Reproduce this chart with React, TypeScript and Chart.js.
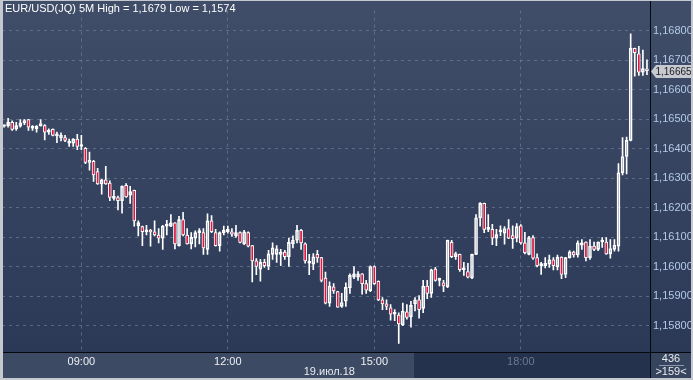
import React, { useEffect, useRef } from 'react';
import { Chart, registerables } from 'chart.js';
Chart.register(...registerables);

const OPEN = [
1.16476,1.16479,1.16490,1.16468,1.16477,1.16488,1.16499,1.16470,1.16468,1.16479,
1.16479,1.16457,1.16466,1.16444,1.16438,1.16438,1.16419,1.16419,1.16433,1.16408,
1.16402,1.16354,1.16358,1.16323,1.16281,1.16295,1.16284,1.16232,1.16235,1.16224,
1.16276,1.16243,1.16259,1.16139,1.16136,1.16119,1.16121,1.16119,1.16108,1.16097,
1.16138,1.16138,1.16149,1.16072,1.16160,1.16108,1.16078,1.16097,1.16116,1.16116,
1.16059,1.16156,1.16116,1.16072,1.16116,1.16119,1.16119,1.16105,1.16116,1.16078,
1.16116,1.16072,1.16020,1.15992,1.16015,1.16001,1.16042,1.16042,1.16042,1.16050,
1.16034,1.16078,1.16090,1.16124,1.16078,1.16012,1.16009,1.16042,1.16031,1.15962,
1.15877,1.15932,1.15916,1.15866,1.15883,1.15929,1.15965,1.15965,1.15976,1.15943,
1.15919,1.16001,1.15951,1.15888,1.15874,1.15861,1.15839,1.15836,1.15803,1.15847,
1.15830,1.15874,1.15888,1.15859,1.15935,1.15910,1.15992,1.15954,1.15946,1.15932,
1.16083,1.16034,1.16042,1.15990,1.15984,1.15962,1.16042,1.16166,1.16215,1.16127,
1.16127,1.16097,1.16119,1.16114,1.16130,1.16106,1.16097,1.16139,1.16081,1.16042,
1.16099,1.16031,1.16004,1.16004,1.16009,1.16024,1.16000,1.16033,1.15974,1.16031,
1.16050,1.16040,1.16073,1.16084,1.16031,1.16070,1.16059,1.16084,1.16084,1.16044,
1.16059,1.16070,1.16319,1.16374,1.16429,1.16741,1.16722,1.16660,1.16669];

const CLOSE = [
1.16478,1.16490,1.16466,1.16479,1.16488,1.16496,1.16474,1.16471,1.16477,1.16486,
1.16457,1.16460,1.16446,1.16449,1.16446,1.16429,1.16424,1.16433,1.16408,1.16410,
1.16354,1.16361,1.16312,1.16281,1.16295,1.16281,1.16235,1.16234,1.16224,1.16273,
1.16237,1.16255,1.16156,1.16150,1.16119,1.16121,1.16118,1.16108,1.16097,1.16138,
1.16139,1.16149,1.16078,1.16160,1.16108,1.16078,1.16100,1.16116,1.16117,1.16064,
1.16156,1.16119,1.16072,1.16116,1.16124,1.16127,1.16111,1.16116,1.16083,1.16119,
1.16070,1.16020,1.16001,1.16015,1.16004,1.16044,1.16064,1.16061,1.16050,1.16034,
1.16083,1.16090,1.16124,1.16081,1.16020,1.16014,1.16034,1.16030,1.15954,1.15877,
1.15935,1.15918,1.15863,1.15879,1.15930,1.15971,1.15976,1.15976,1.15943,1.15921,
1.16001,1.15943,1.15888,1.15874,1.15866,1.15839,1.15840,1.15806,1.15850,1.15828,
1.15869,1.15888,1.15855,1.15935,1.15910,1.15990,1.15954,1.15955,1.15935,1.16090,
1.16034,1.16045,1.15990,1.15991,1.15965,1.16042,1.16166,1.16215,1.16127,1.16128,
1.16097,1.16109,1.16120,1.16130,1.16097,1.16095,1.16136,1.16081,1.16048,1.16099,
1.16029,1.16004,1.16005,1.16012,1.16024,1.16004,1.16033,1.15974,1.16031,1.16051,
1.16040,1.16081,1.16081,1.16031,1.16070,1.16059,1.16084,1.16085,1.16044,1.16062,
1.16073,1.16319,1.16374,1.16429,1.16741,1.16726,1.16660,1.16672,1.16665];

const HIGH = [
1.16479,1.16504,1.16495,1.16490,1.16499,1.16499,1.16500,1.16479,1.16479,1.16499,
1.16482,1.16468,1.16468,1.16457,1.16454,1.16446,1.16433,1.16435,1.16449,1.16446,
1.16404,1.16389,1.16361,1.16334,1.16297,1.16341,1.16292,1.16259,1.16240,1.16275,
1.16282,1.16273,1.16260,1.16156,1.16138,1.16141,1.16127,1.16156,1.16130,1.16141,
1.16158,1.16177,1.16150,1.16171,1.16185,1.16130,1.16116,1.16122,1.16130,1.16130,
1.16180,1.16174,1.16127,1.16119,1.16138,1.16138,1.16130,1.16141,1.16119,1.16124,
1.16119,1.16073,1.16028,1.16025,1.16025,1.16056,1.16081,1.16072,1.16059,1.16056,
1.16097,1.16105,1.16141,1.16127,1.16081,1.16042,1.16045,1.16056,1.16032,1.15982,
1.15949,1.15943,1.15917,1.15910,1.15946,1.15976,1.16001,1.15984,1.15977,1.15954,
1.16003,1.16003,1.15952,1.15896,1.15888,1.15872,1.15855,1.15844,1.15877,1.15872,
1.15883,1.15896,1.15902,1.15954,1.15954,1.15992,1.15998,1.15962,1.15954,1.16091,
1.16090,1.16050,1.16043,1.16015,1.16012,1.16043,1.16177,1.16218,1.16216,1.16177,
1.16144,1.16127,1.16139,1.16136,1.16160,1.16139,1.16147,1.16143,1.16117,1.16103,
1.16106,1.16044,1.16015,1.16031,1.16040,1.16031,1.16040,1.16034,1.16032,1.16055,
1.16053,1.16088,1.16092,1.16085,1.16092,1.16084,1.16085,1.16099,1.16099,1.16092,
1.16092,1.16350,1.16438,1.16440,1.16790,1.16742,1.16748,1.16735,1.16702];

const LOW = [
1.16474,1.16474,1.16463,1.16463,1.16474,1.16482,1.16463,1.16463,1.16457,1.16477,
1.16430,1.16449,1.16444,1.16421,1.16427,1.16424,1.16408,1.16408,1.16397,1.16397,
1.16350,1.16328,1.16290,1.16279,1.16246,1.16279,1.16224,1.16226,1.16193,1.16182,
1.16235,1.16215,1.16138,1.16105,1.16072,1.16108,1.16070,1.16105,1.16081,1.16059,
1.16108,1.16136,1.16061,1.16070,1.16105,1.16077,1.16061,1.16067,1.16078,1.16042,
1.16042,1.16116,1.16070,1.16053,1.16108,1.16114,1.16103,1.16100,1.16081,1.16075,
1.16067,1.15949,1.15973,1.15951,1.15998,1.15990,1.16025,1.16015,1.16004,1.16025,
1.16001,1.16064,1.16081,1.16059,1.16012,1.15973,1.15990,1.16015,1.15949,1.15874,
1.15866,1.15910,1.15862,1.15862,1.15866,1.15910,1.15960,1.15954,1.15907,1.15910,
1.15916,1.15940,1.15885,1.15855,1.15855,1.15819,1.15817,1.15740,1.15800,1.15822,
1.15795,1.15850,1.15826,1.15844,1.15892,1.15896,1.15951,1.15935,1.15916,1.15929,
1.16031,1.16025,1.15984,1.15971,1.15962,1.15960,1.16041,1.16138,1.16116,1.16119,
1.16075,1.16072,1.16106,1.16077,1.16095,1.16062,1.16084,1.16077,1.16044,1.16040,
1.16025,1.16000,1.15974,1.15996,1.15998,1.15989,1.15989,1.15960,1.15963,1.16029,
1.16033,1.16033,1.16059,1.16020,1.16025,1.16055,1.16055,1.16066,1.16042,1.16029,
1.16053,1.16053,1.16312,1.16315,1.16427,1.16647,1.16649,1.16649,1.16652];

// 5-minute bars starting at 07:25
const START_MINUTES = 7 * 60 + 25;
const STEP_MINUTES = 5;
const TIME_LABELS = OPEN.map((_, i) => {
  const t = START_MINUTES + i * STEP_MINUTES;
  return String(Math.floor(t / 60)).padStart(2, '0') + ':' + String(t % 60).padStart(2, '0');
});
const TIME_TICKS = ['09:00', '12:00', '15:00', '18:00'];
const SHADE_START = '15:50';
const TITLE = 'EUR/USD(JQ) 5M High = 1,1679 Low = 1,1574';
const DATE_LABEL = '19.июл.18';
const LAST_PRICE = 1.16665;
const BARS_TOTAL = '436';
const BARS_VISIBLE = '>159<';
const Y_MIN = 1.15711;
const Y_MAX = 1.16869;
const Y_STEP = 0.001;

const FONT = "'Liberation Sans Narrow', 'Liberation Sans', Arial, sans-serif";
const UP_FILL = 'rgba(0,0,0,0)';
const DOWN_FILL = '#e0163e';
const WHITE = '#ffffff';
const GRID = 'rgba(125,140,168,0.55)';

const fmtPrice = (v: number) => v.toFixed(5).replace('.', ',');

const decor = {
  id: 'decor',
  beforeDraw(chart: any) {
    const { ctx, width, height, chartArea: a, scales } = chart;
    ctx.save();
    ctx.fillStyle = '#c5c8ce';
    ctx.fillRect(0, 0, width, height);
    const g = ctx.createLinearGradient(0, a.top, 0, a.bottom);
    g.addColorStop(0, '#404d68');
    g.addColorStop(1, '#2b3957');
    ctx.fillStyle = g;
    ctx.fillRect(3, 1, width - 5, a.bottom - 1);
    const xs = scales.x;
    const split = Math.round(xs.getPixelForValue(TIME_LABELS.indexOf(SHADE_START) - 0.3));
    const sh = height - 2 - a.bottom;
    ctx.fillStyle = '#3d4a64';
    ctx.fillRect(3, a.bottom, split - 3, sh);
    ctx.fillStyle = '#25324e';
    ctx.fillRect(split, a.bottom, a.right + 1 - split, sh);
    ctx.fillStyle = '#37445e';
    ctx.fillRect(a.right + 1, a.bottom, width - 2 - (a.right + 1), sh);
    ctx.restore();
  },
  afterDraw(chart: any) {
    const { ctx, width, height, chartArea: a, scales } = chart;
    ctx.save();
    // separators
    ctx.fillStyle = '#06080d';
    ctx.fillRect(a.right + 1, 1, 1, height - 3);
    ctx.fillRect(3, a.bottom, width - 5, 1);
    // title
    ctx.font = `11px ${FONT}`;
    ctx.textBaseline = 'middle';
    ctx.textAlign = 'left';
    ctx.fillStyle = '#ffffff';
    ctx.fillText(TITLE, 5, 9);
    // date
    ctx.textAlign = 'center';
    ctx.fillStyle = '#e8ebf0';
    ctx.fillText(DATE_LABEL, scales.x.getPixelForValue(TIME_LABELS.indexOf('15:00')) - 45, 372);
    // bar counter box
    const cx = (a.right + 2 + width - 2) / 2;
    ctx.fillText(BARS_TOTAL, cx, 359);
    ctx.fillText(BARS_VISIBLE, cx, 372);
    ctx.fillStyle = '#8d99ad';
    ctx.fillRect(cx - 12, 365, 25, 1);
    // last price marker
    const y = Math.round(scales.y.getPixelForValue(LAST_PRICE));
    const x0 = a.right + 2;
    ctx.fillStyle = '#c6cad0';
    ctx.beginPath();
    ctx.moveTo(x0, y + 0.5);
    ctx.lineTo(x0 + 5, y - 6);
    ctx.lineTo(width - 2, y - 6);
    ctx.lineTo(width - 2, y + 7);
    ctx.lineTo(x0 + 5, y + 7);
    ctx.closePath();
    ctx.fill();
    ctx.font = `10px ${FONT}`;
    ctx.fillStyle = '#1a1c20';
    ctx.textAlign = 'center';
    ctx.fillText(fmtPrice(LAST_PRICE), (x0 + 5 + width - 2) / 2, y + 1);
    // frame
    ctx.fillStyle = '#c5c8ce';
    ctx.fillRect(0, 0, 3, height);
    ctx.fillRect(0, 0, width, 1);
    ctx.fillRect(width - 2, 0, 2, height);
    ctx.fillRect(0, height - 2, width, 2);
    ctx.restore();
  },
};

export default function App() {
  const ref = useRef<HTMLCanvasElement | null>(null);
  useEffect(() => {
    document.body.style.margin = '0';
    const canvas = ref.current!;
    const bodies = OPEN.map((o, i) => [Math.min(o, CLOSE[i]), Math.max(o, CLOSE[i])]);
    const upperWicks = OPEN.map((o, i) => [Math.max(o, CLOSE[i]), HIGH[i]]);
    const lowerWicks = OPEN.map((o, i) => [LOW[i], Math.min(o, CLOSE[i])]);
    const fills = OPEN.map((o, i) => (CLOSE[i] < o ? DOWN_FILL : UP_FILL));
    const shadeIdx = TIME_LABELS.indexOf(SHADE_START);
    const chart = new Chart(canvas, {
      type: 'bar',
      data: {
        labels: TIME_LABELS,
        datasets: [
          {
            label: 'upper',
            data: upperWicks as any,
            backgroundColor: WHITE,
            borderWidth: 0,
            barThickness: 1,
            grouped: false,
            order: 2,
          } as any,
          {
            label: 'lower',
            data: lowerWicks as any,
            backgroundColor: WHITE,
            borderWidth: 0,
            barThickness: 1,
            grouped: false,
            order: 2,
          } as any,
          {
            label: 'body',
            data: bodies as any,
            backgroundColor: fills,
            borderColor: WHITE,
            borderWidth: 1,
            borderSkipped: false,
            minBarLength: 2,
            barThickness: 3,
            grouped: false,
            order: 1,
          } as any,
        ],
      },
      options: {
        animation: false,
        responsive: false,
        maintainAspectRatio: false,
        devicePixelRatio: 1,
        layout: { padding: { left: 2, right: 2, top: 1, bottom: 2 } },
        plugins: { legend: { display: false }, tooltip: { enabled: false } },
        scales: {
          x: {
            type: 'category',
            offset: true,
            afterFit: (s: any) => { s.height = 26; },
            grid: {
              offset: false,
              drawTicks: false,
              color: (c: any) => (TIME_TICKS.includes(TIME_LABELS[c.index]) ? GRID : 'rgba(0,0,0,0)'),
              lineWidth: 1,
            },
            border: { display: false, dash: [3, 4] },
            ticks: {
              autoSkip: false,
              maxRotation: 0,
              minRotation: 0,
              padding: 3,
              font: { family: FONT, size: 11 },
              color: (c: any) => (c.index >= shadeIdx ? '#6c7990' : '#eef0f4'),
              callback: (_v: any, i: number) => (TIME_TICKS.includes(TIME_LABELS[i]) ? TIME_LABELS[i] : ''),
            },
          },
          y: {
            position: 'right',
            min: Y_MIN,
            max: Y_MAX,
            afterFit: (s: any) => { s.width = 42; },
            grid: { drawTicks: false, color: GRID, lineWidth: 1 },
            border: { display: false, dash: [3, 4] },
            ticks: {
              stepSize: Y_STEP,
              includeBounds: false,
              padding: 4,
              font: { family: FONT, size: 11 },
              color: '#b4cbe6',
              callback: (v: any) => fmtPrice(Number(v)),
            },
          },
        },
      },
      plugins: [decor],
    });
    return () => chart.destroy();
  }, []);
  return (
    <div style={{ position: 'fixed', left: 0, top: 0, width: 693, height: 380 }}>
      <canvas ref={ref} width={693} height={380} style={{ display: 'block', width: 693, height: 380 }} />
    </div>
  );
}
